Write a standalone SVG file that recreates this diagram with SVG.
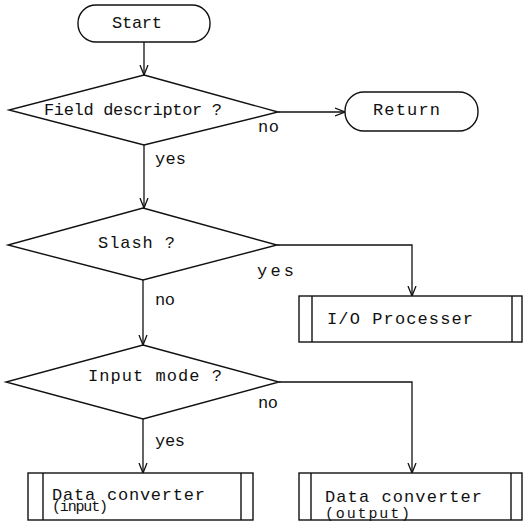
<svg xmlns="http://www.w3.org/2000/svg" width="523" height="522" viewBox="0 0 523 522">
  <style>
    .shape { fill: none; stroke: #111; stroke-width: 1.4; }
    .edge { fill: none; stroke: #111; stroke-width: 1.3; }
    text { font-family: "Liberation Mono", "DejaVu Sans Mono", monospace; font-size: 17px; fill: #111; }
    text.sub { font-size: 15px; }
  </style>
  <defs>
    <marker id="arrow" viewBox="0 0 10 10" refX="10" refY="5" markerWidth="10" markerHeight="10" markerUnits="userSpaceOnUse" orient="auto">
      <polyline points="0,1 10,5 0,9" fill="none" stroke="#111" stroke-width="1.3"/>
    </marker>
  </defs>
  <rect width="523" height="522" fill="#fff"/>

  <g id="connectors">
    <line class="edge" x1="144" y1="42" x2="144" y2="75" marker-end="url(#arrow)"/>
    <line class="edge" x1="278" y1="112" x2="345" y2="112" marker-end="url(#arrow)"/>
    <line class="edge" x1="144" y1="145" x2="144" y2="208" marker-end="url(#arrow)"/>
    <polyline class="edge" points="277,245 412,245 412,296" marker-end="url(#arrow)"/>
    <line class="edge" x1="143" y1="280" x2="143" y2="345" marker-end="url(#arrow)"/>
    <polyline class="edge" points="279,382 412,382 412,473" marker-end="url(#arrow)"/>
    <line class="edge" x1="143" y1="419" x2="143" y2="473" marker-end="url(#arrow)"/>
    <text x="258" y="132" textLength="21">no</text>
    <text x="155" y="164" textLength="31">yes</text>
    <text x="257" y="276" textLength="37">yes</text>
    <text x="155" y="305" textLength="20">no</text>
    <text x="258" y="408" textLength="20">no</text>
    <text x="155" y="446" textLength="30">yes</text>
  </g>

  <g id="start">
    <rect class="shape" x="78" y="5" width="132" height="37" rx="18"/>
    <text x="112" y="28" textLength="50">Start</text>
  </g>

  <g id="field-descriptor">
    <polygon class="shape" points="144,75 278,112 144,145 9,110"/>
    <text x="44" y="115" textLength="178">Field descriptor ?</text>
  </g>

  <g id="return">
    <rect class="shape" x="345" y="92" width="133" height="39" rx="19"/>
    <text x="373" y="115" textLength="67">Return</text>
  </g>

  <g id="slash">
    <polygon class="shape" points="143,208 277,245 143,280 8,245"/>
    <text x="98" y="248" textLength="77">Slash ?</text>
  </g>

  <g id="io-processer">
    <rect class="shape" x="299" y="296" width="223" height="46"/>
    <line class="shape" x1="312" y1="296" x2="312" y2="342"/>
    <line class="shape" x1="512" y1="296" x2="512" y2="342"/>
    <text x="327" y="324" textLength="146">I/O Processer</text>
  </g>

  <g id="input-mode">
    <polygon class="shape" points="143,345 279,382 143,419 6,382"/>
    <text x="88" y="381" textLength="134">Input mode ?</text>
  </g>

  <g id="data-converter-input">
    <rect class="shape" x="28" y="473" width="225" height="47"/>
    <line class="shape" x1="43" y1="473" x2="43" y2="520"/>
    <line class="shape" x1="241" y1="473" x2="241" y2="520"/>
    <text x="52" y="500" textLength="153">Data converter</text>
    <text class="sub" x="52" y="511" textLength="56">(input)</text>
  </g>

  <g id="data-converter-output">
    <rect class="shape" x="299" y="473" width="223" height="47"/>
    <line class="shape" x1="311" y1="473" x2="311" y2="520"/>
    <line class="shape" x1="511" y1="473" x2="511" y2="520"/>
    <text x="325" y="502" textLength="157">Data converter</text>
    <text class="sub" x="325" y="518" textLength="85">(output)</text>
  </g>
</svg>
